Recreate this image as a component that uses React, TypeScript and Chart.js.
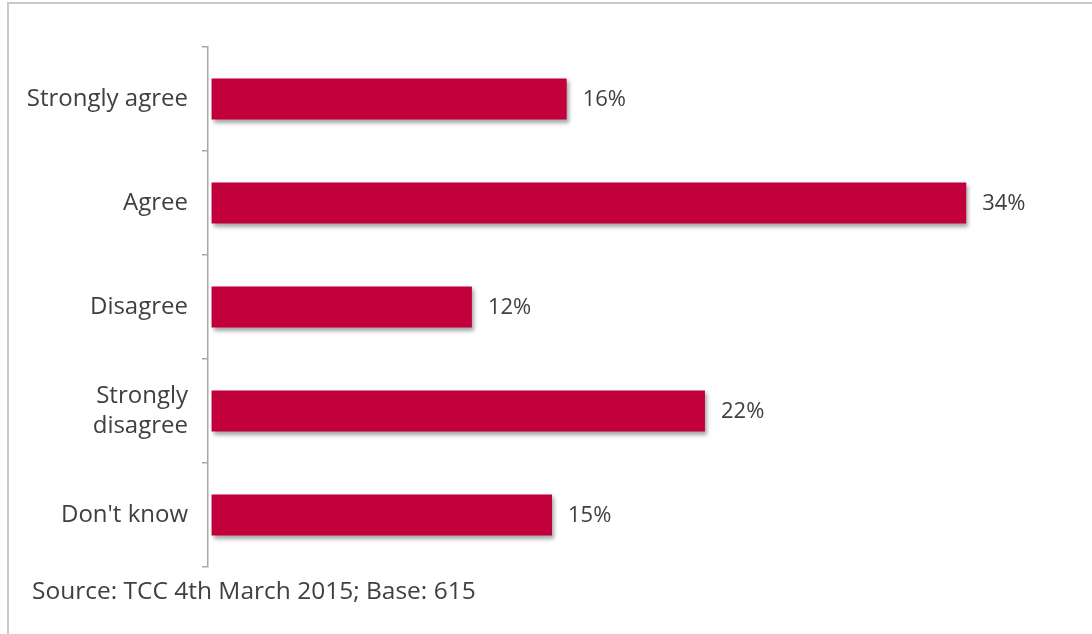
import React, { useEffect, useRef } from "react";
import { Chart, registerables } from "chart.js";

Chart.register(...registerables);

const categories: (string | string[])[] = [
  "Strongly agree",
  "Agree",
  "Disagree",
  ["Strongly", "disagree"],
  "Don't know",
];
const values: number[] = [16.0, 34.0, 11.73, 22.23, 15.34];
const valueLabels: string[] = ["16%", "34%", "12%", "22%", "15%"];
const sourceText = "Source: TCC 4th March 2015; Base: 615";

const FONT = "'Open Sans', 'Noto Sans', sans-serif";
const BAR_COLOR = "#c2003c";
const TEXT_COLOR = "#404040";

const shadowPlugin = {
  id: "barShadow",
  beforeDatasetsDraw(chart: any) {
    const ctx = chart.ctx;
    ctx.save();
    ctx.shadowColor = "rgba(0,0,0,0.35)";
    ctx.shadowOffsetX = 2;
    ctx.shadowOffsetY = 3;
    ctx.shadowBlur = 4;
  },
  afterDatasetsDraw(chart: any) {
    chart.ctx.restore();
  },
};

const valueLabelPlugin = {
  id: "valueLabels",
  afterDraw(chart: any) {
    const ctx = chart.ctx;
    const meta = chart.getDatasetMeta(0);
    ctx.save();
    ctx.fillStyle = TEXT_COLOR;
    ctx.font = `22px ${FONT}`;
    ctx.textAlign = "left";
    ctx.textBaseline = "middle";
    meta.data.forEach((bar: any, i: number) => {
      ctx.fillText(valueLabels[i], bar.x + 16, bar.y + 1);
    });
    ctx.restore();
  },
};

export default function App() {
  const canvasRef = useRef<HTMLCanvasElement | null>(null);

  useEffect(() => {
    if (!canvasRef.current) return;
    const chart = new Chart(canvasRef.current, {
      type: "bar",
      data: {
        labels: categories as any,
        datasets: [
          {
            data: values,
            backgroundColor: BAR_COLOR,
            borderWidth: 0,
            barPercentage: 0.395,
            categoryPercentage: 1,
          },
        ],
      },
      options: {
        indexAxis: "y",
        animation: false,
        responsive: false,
        maintainAspectRatio: false,
        layout: { padding: { left: 0, right: 37, top: 47, bottom: 67 } },
        plugins: {
          legend: { display: false },
          tooltip: { enabled: false },
          title: { display: false },
        },
        scales: {
          x: {
            display: false,
            min: -0.16,
            max: 38,
          },
          y: {
            afterFit(scale: any) {
              scale.width = 208;
            },
            grid: {
              display: true,
              offset: true,
              drawOnChartArea: false,
              drawTicks: true,
              tickLength: 6,
              color: "#a8a8a8",
              lineWidth: 1.5,
            },
            border: { display: true, color: "#a8a8a8", width: 1.5 },
            ticks: {
              color: TEXT_COLOR,
              padding: 14,
              font: { family: FONT, size: 24, lineHeight: 1.25 },
            },
          },
        },
      },
      plugins: [shadowPlugin, valueLabelPlugin],
    });
    return () => chart.destroy();
  }, []);

  return (
    <div
      style={{
        position: "fixed",
        left: 0,
        top: 0,
        width: 1092,
        height: 634,
        background: "#ffffff",
        overflow: "hidden",
      }}
    >
      <div
        style={{
          position: "absolute",
          left: 7,
          top: 2,
          width: 1200,
          height: 800,
          borderLeft: "2px solid #c8c8c8",
          borderTop: "2px solid #c8c8c8",
        }}
      />
      <canvas
        ref={canvasRef}
        width={1092}
        height={634}
        style={{ position: "absolute", left: 0, top: 0 }}
      />
      <div
        style={{
          position: "absolute",
          left: 32,
          top: 573,
          fontFamily: FONT,
          fontSize: 24.5,
          color: TEXT_COLOR,
          whiteSpace: "nowrap",
          lineHeight: "34px",
        }}
      >
        {sourceText}
      </div>
    </div>
  );
}
